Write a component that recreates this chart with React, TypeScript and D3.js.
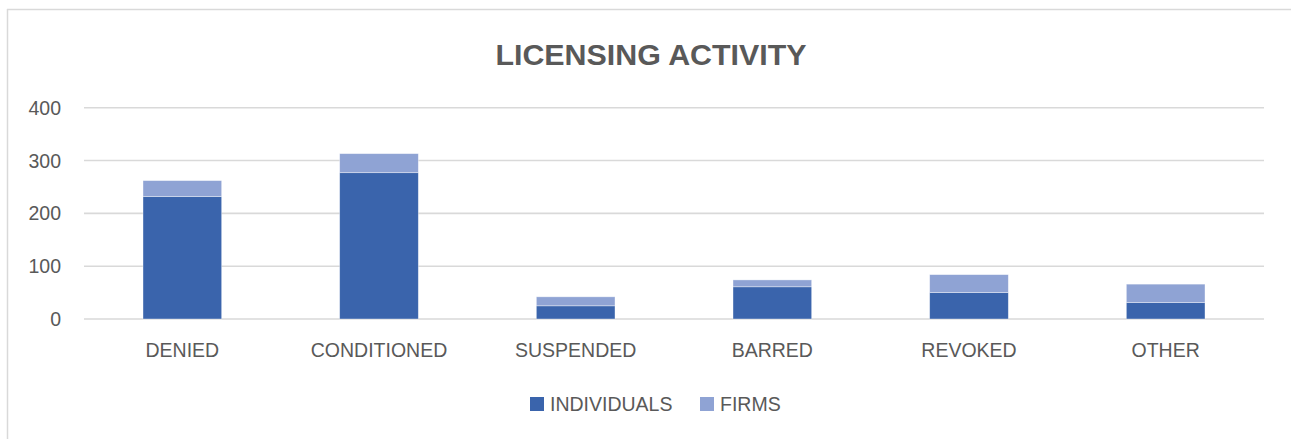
import React from "react";
import * as d3 from "d3";

const categories = ["DENIED", "CONDITIONED", "SUSPENDED", "BARRED", "REVOKED", "OTHER"];
const individuals = [232, 277, 25, 61, 50, 31];
const firms = [30, 36, 17, 13, 34, 35];
const seriesNames = ["INDIVIDUALS", "FIRMS"];
const yTicks = [0, 100, 200, 300, 400];
const title = "LICENSING ACTIVITY";

const W = 1291;
const H = 439;
const colors = ["#3A64AC", "#8FA3D4"];
const textColor = "#595959";
const font = "'Liberation Sans', Arial, sans-serif";

export default function App() {
  const x = d3.scaleBand<string>().domain(categories).range([84, 1264]).paddingInner(0.6).paddingOuter(0.3);
  const y = d3.scaleLinear().domain([0, 400]).range([319, 107.7]);

  const rows = categories.map((c, i) => ({ cat: c, INDIVIDUALS: individuals[i], FIRMS: firms[i] }));
  const stacked = d3.stack<any>().keys(seriesNames)(rows);

  const legendItems = [
    { name: seriesNames[0], sx: 530 },
    { name: seriesNames[1], sx: 700 },
  ];

  return (
    <svg width={W} height={H} style={{ position: "absolute", left: 0, top: 0 }} fontFamily={font}>
      <rect x={0} y={0} width={W} height={H} fill="#fff" />
      <line x1={7.5} y1={9} x2={7.5} y2={H} stroke="#D9D9D9" strokeWidth={1.5} />
      <line x1={7} y1={9.5} x2={W} y2={9.5} stroke="#D9D9D9" strokeWidth={1.5} />
      <text x={651} y={65} textAnchor="middle" fontSize={30.4} fontWeight="bold" fill={textColor}>
        {title}
      </text>
      {yTicks.map((t) => (
        <g key={t}>
          <line x1={84} x2={1264} y1={y(t)} y2={y(t)} stroke="#D9D9D9" strokeWidth={1.6} />
          <text x={61} y={y(t) + 7} textAnchor="end" fontSize={19.5} fill={textColor}>
            {t}
          </text>
        </g>
      ))}
      {stacked.map((s, si) =>
        s.map((d, i) => (
          <rect
            key={si + "-" + i}
            x={x(categories[i])}
            width={x.bandwidth()}
            y={y(d[1])}
            height={y(d[0]) - y(d[1])}
            fill={colors[si]}
            stroke="#fff"
            strokeOpacity={0.5}
            strokeWidth={0.75}
          />
        ))
      )}
      {categories.map((c) => (
        <text key={c} x={(x(c) as number) + x.bandwidth() / 2} y={357.3} textAnchor="middle" fontSize={19.5} fill={textColor}>
          {c}
        </text>
      ))}
      {legendItems.map((l, i) => (
        <g key={l.name}>
          <rect x={l.sx} y={397} width={14} height={14} fill={colors[i]} />
          <text x={l.sx + 20} y={410.7} fontSize={19.5} fill={textColor}>
            {l.name}
          </text>
        </g>
      ))}
    </svg>
  );
}
